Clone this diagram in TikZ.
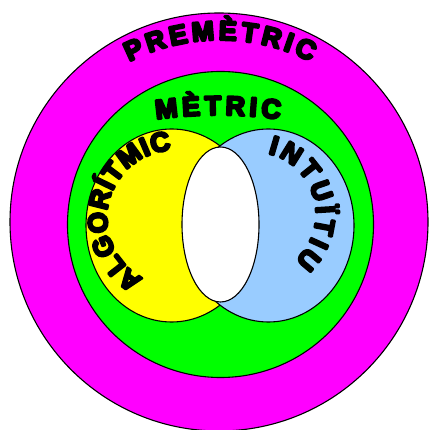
\documentclass[tikz,border=0pt]{standalone}
\usepackage{fontspec}
\newfontfamily\capfont{Liberation Sans}[BoldFont={* Bold}]
\newcommand\heavyink{\special{pdf:literal direct 2 Tr 2.4 w 1 j}}
\usetikzlibrary{decorations.text}

\begin{document}
\begin{tikzpicture}[
  x=1pt, y=1pt,
  line width=1.1pt,
  arcword/.style={decorate, decoration={text along path, text align=fit to path,
      text={|\capfont\bfseries\fontsize{27}{27}\selectfont\heavyink|#1}}},
]
\definecolor{cPre}{HTML}{FF00FF}   % magenta (outer)
\definecolor{cMet}{HTML}{00FF00}   % green
\definecolor{cAlg}{HTML}{FFFF00}   % yellow
\definecolor{cInt}{HTML}{99CCFF}   % light blue

% -------- frame (the outer disc runs off the page) --------
\clip (0,0) rectangle (430,430);

% =====================================================================
% Nested sets
% =====================================================================
\coordinate (pre) at (219,208);
\coordinate (met) at (220.5,205.5);
\coordinate (alg) at (171.6,204.5);
\coordinate (int) at (268.4,204.5);

\filldraw[fill=cPre] (pre) circle (209);
\filldraw[fill=cMet] (met) circle (153);

% overlapping ovals
\filldraw[fill=cAlg] (alg) ellipse [x radius=85.6, y radius=96.5];
\filldraw[fill=cInt] (int) ellipse [x radius=85.6, y radius=96.5];

% empty middle
\filldraw[fill=white] (met) ellipse [x radius=38.5, y radius=77.5];

% =====================================================================
% Curved labels
% =====================================================================
\path[arcword=PREMÈTRIC]  (220,190) ++(117:200) arc[start angle=117, end angle=63, radius=200];
\path[arcword=MÈTRIC]     (218,-135) ++(97.9:450) arc[start angle=97.9, end angle=82.1, radius=450];
\path[arcword=ALGORÍTMIC] (175,212) ++(242:68) arc[start angle=242, end angle=93, radius=68];
\path[arcword=INTUÏTIU]   (254,216) ++(77:62) arc[start angle=77, end angle=-49, radius=62];

\end{tikzpicture}
\end{document}
